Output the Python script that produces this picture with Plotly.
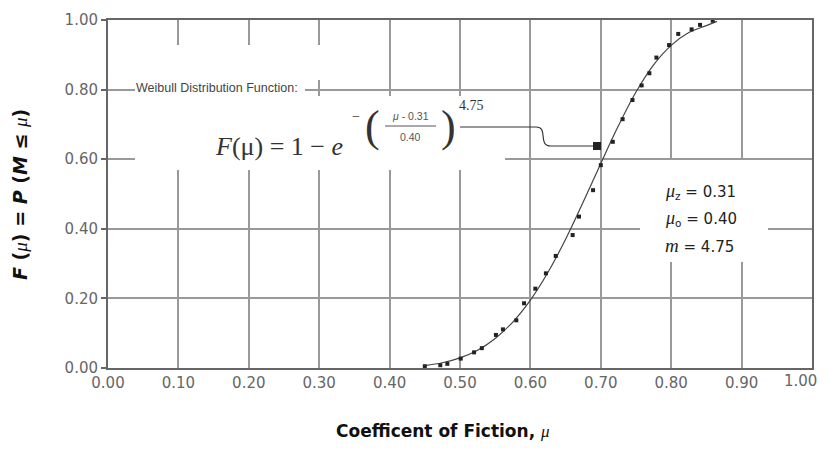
import plotly.graph_objects as go

# fitted Weibull curve
CURVE_MU = [0.450, 0.475, 0.500, 0.525, 0.550, 0.575, 0.600, 0.625, 0.650,
            0.675, 0.700, 0.725, 0.750, 0.775, 0.800, 0.825, 0.850, 0.865]
CURVE_F = [0.007, 0.015, 0.029, 0.051, 0.085, 0.132, 0.195, 0.275, 0.370,
           0.477, 0.588, 0.696, 0.793, 0.871, 0.927, 0.964, 0.984, 0.996]

# measured points
DATA_MU = [0.450, 0.472, 0.482, 0.501, 0.520, 0.531, 0.551, 0.561, 0.580,
           0.591, 0.607, 0.622, 0.636, 0.660, 0.669, 0.689, 0.700, 0.717,
           0.731, 0.745, 0.758, 0.769, 0.779, 0.797, 0.810, 0.829, 0.841, 0.859]
DATA_F = [0.005, 0.008, 0.012, 0.027, 0.045, 0.057, 0.095, 0.111, 0.137,
          0.186, 0.228, 0.272, 0.322, 0.382, 0.435, 0.511, 0.583, 0.650,
          0.715, 0.770, 0.812, 0.847, 0.892, 0.928, 0.960, 0.973, 0.986, 0.998]

X_TICKS = [0.0, 0.1, 0.2, 0.3, 0.4, 0.5, 0.6, 0.7, 0.8, 0.9, 1.0]
X_LABELS = ["0.00", "0.10", "0.20", "0.30", "0.40", "0.50",
            "0.60", "0.70", "0.80", "0.90", "1.00"]
Y_TICKS = [0.0, 0.2, 0.4, 0.6, 0.8, 1.0]
Y_LABELS = ["0.00", "0.20", "0.40", "0.60", "0.80", "1.00"]

MU_Z, MU_O, M_SHAPE = "0.31", "0.40", "4.75"

# the page body adds an 8px margin all round; keep the figure inside the window
OFF = 8
L, T = 108 - OFF, 20 - OFF
PW, PH = 704, 348
W, H = 827 - 2 * OFF, 451 - 2 * OFF
R = W - L - PW
B = H - T - PH

SANS = "DejaVu Sans"
ARIAL = "Liberation Sans, Arial"
SERIF = "Liberation Serif, Times New Roman, serif"
INK = "#333"
TICK_COLOR = "#666"


# pixel positions measured on the reference -> paper fractions
def xp(px):
    return (px - 108) / PW


def yp(py):
    return (368 - py) / PH


fig = go.Figure()

fig.add_trace(go.Scatter(
    x=CURVE_MU, y=CURVE_F, mode="lines",
    line=dict(color="#444", width=1.2, shape="spline"),
    hoverinfo="skip"
))
fig.add_trace(go.Scatter(
    x=DATA_MU, y=DATA_F, mode="markers",
    marker=dict(symbol="square", size=4, color="#222")
))

# white patches behind the texts (they break the grid in the original)
boxes = [
    (135, 305, 45, 170),
    (305, 335, 45, 80),
    (305, 505, 96, 170),
    (640, 768, 160, 262),
]
for x0, x1, y0, y1 in boxes:
    fig.add_shape(type="rect", xref="x", yref="y",
                  x0=xp(x0), x1=xp(x1), y0=yp(y1), y1=yp(y0),
                  fillcolor="white", line_width=0, layer="between")

ann = []


def txt(text, px, py, size, family=SANS, color=INK, xanchor="left", **kw):
    ann.append(dict(text=text, x=xp(px), y=yp(py), xref="paper", yref="paper",
                    xanchor=xanchor, yanchor="middle", showarrow=False,
                    font=dict(family=family, size=size, color=color), **kw))


txt("Weibull Distribution Function:", 134, 88, 12.5, family=ARIAL, color="#444")

# formula
txt("<i>F</i>(μ) = 1 − <i>e</i>", 213, 146, 26, family=SERIF, color="#333")
txt("−", 350, 116, 14, family=SERIF, color="#333")
txt("(", 372, 126, 44, family=SERIF, color="#333", xanchor="center")
txt("<i>μ</i> - " + MU_Z, 410, 116, 10.5, family=ARIAL, color="#555", xanchor="center")
txt(MU_O, 410, 137, 10.5, family=ARIAL, color="#555", xanchor="center")
txt(")", 448, 126, 44, family=SERIF, color="#333", xanchor="center")
txt(M_SHAPE, 457, 106, 14, family=SERIF, color="#333")

fig.add_shape(type="line", xref="paper", yref="paper",
              x0=xp(385), x1=xp(436), y0=yp(126), y1=yp(126),
              line=dict(color="#555", width=1))

# leader from formula to the curve
path = "M {a},{b} L {c},{b} C {d},{b} {e},{f} {g},{f} L {h},{f}".format(
    a=xp(460), b=yp(127), c=xp(536), d=xp(549),
    e=xp(537), f=yp(146), g=xp(551), h=xp(597))
fig.add_shape(type="path", xref="paper", yref="paper", path=path,
              line=dict(color="#333", width=1.2))
fig.add_shape(type="rect", xref="paper", yref="paper",
              x0=xp(593), x1=xp(601), y0=yp(150), y1=yp(142),
              fillcolor="#222", line_width=0)

# parameters
mu = "<span style='font-family:Liberation Serif'><i>μ</i></span>"
mu_big = "<span style='font-family:Liberation Serif;font-size:18px'><i>μ</i></span>"
txt(mu_big + "<sub>z</sub> = " + MU_Z, 663, 191, 15, color="#222")
txt(mu_big + "<sub>o</sub> = " + MU_O, 663, 218, 15, color="#222")
txt("<span style='font-family:Liberation Serif;font-size:19px'><i>m</i></span> = " + M_SHAPE,
    663, 246, 15, color="#222")

# axis titles
txt("<b>Coefficent of Fiction, </b>" + mu, 443, 431, 17, color="#111",
    xanchor="center")
txt("<b><i>F</i> (</b>" + mu + "<b>) = <i>P</i> (<i>M</i> ≤ </b>" + mu + "<b>)</b>",
    20, 195, 19, color="#111", xanchor="center", textangle=-90)

# last x label would spill past the figure edge: place it by hand
txt(X_LABELS[-1], W + OFF, 381, 15, color=TICK_COLOR, xanchor="right")
x_text = X_LABELS[:-1] + [""]

axis_common = dict(
    range=[0, 1], showgrid=True, gridcolor="#999", gridwidth=1.5,
    showline=True, linecolor=TICK_COLOR, linewidth=2, mirror=True,
    zeroline=False, automargin=False,
    tickfont=dict(family=SANS, size=15, color=TICK_COLOR),
)

fig.update_xaxes(tickvals=X_TICKS, ticktext=x_text, ticks="", **axis_common)
fig.update_yaxes(tickvals=Y_TICKS, ticktext=Y_LABELS, ticks="outside",
                 ticklen=5, tickcolor=TICK_COLOR, tickwidth=1.5, **axis_common)

fig.update_layout(
    width=W, height=H,
    margin=dict(l=L, r=R, t=T, b=B),
    plot_bgcolor="white", paper_bgcolor="white",
    showlegend=False,
    annotations=ann,
)

fig.write_html("out.html")
